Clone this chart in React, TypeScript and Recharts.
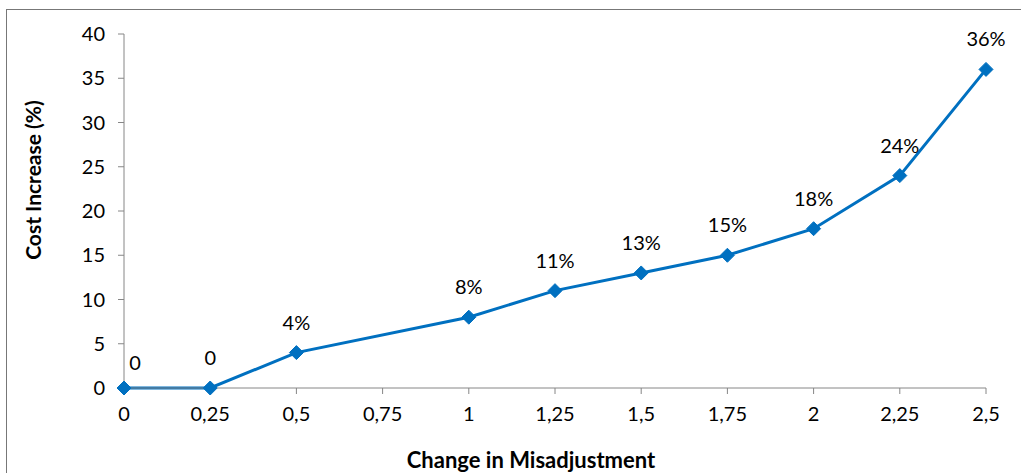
import { LineChart, Line, XAxis, YAxis, LabelList } from 'recharts';

const misadjustment = ['0', '0,25', '0,5', '0,75', '1', '1,25', '1,5', '1,75', '2', '2,25', '2,5'];
const costIncrease: (number | null)[] = [0, 0, 4, null, 8, 11, 13, 15, 18, 24, 36];
const yTicks = [0, 5, 10, 15, 20, 25, 30, 35, 40];

const data = misadjustment.map((x, i) => ({ x, cost: costIncrease[i] }));

const FONT = 'Lato, "Open Sans", sans-serif';
const BLUE = '#0070C0';
const AXIS = '#868686';

const Diamond = (props: any) => {
  const { cx, cy, value } = props;
  if (value == null || cx == null || cy == null) return null;
  const r = 7;
  return (
    <polygon
      points={`${cx},${cy - r} ${cx + r},${cy} ${cx},${cy + r} ${cx - r},${cy}`}
      fill={BLUE}
      stroke={BLUE}
    />
  );
};

const PointLabel = (props: any) => {
  const { x, y, value, index } = props;
  if (value == null) return null;
  const first = index === 0;
  return (
    <text
      x={x + (first ? 11 : 0)}
      y={y - (first ? 26 : 31)}
      textAnchor="middle"
      dominantBaseline="central"
      fontFamily={FONT}
      fontSize={20}
      fill="#000"
    >
      {value === 0 ? '0' : `${value}%`}
    </text>
  );
};

const App = () => {
  return (
    <div style={{ position: 'absolute', left: 0, top: 0, width: 1021, height: 473, overflow: 'hidden', background: '#fff' }}>
      <div
        style={{
          position: 'absolute',
          left: 6,
          top: 9,
          width: 1040,
          height: 500,
          border: '1px solid #777',
        }}
      />
      <LineChart
        width={1021}
        height={473}
        data={data}
        margin={{ top: 34, right: 35, bottom: 25, left: 64 }}
        style={{ position: 'absolute', left: 0, top: 0 }}
      >
        <XAxis
          dataKey="x"
          height={60}
          padding={{ left: 0, right: 0 }}
          stroke={AXIS}
          tickSize={6}
          tickMargin={13}
          interval={0}
          tick={{ fill: '#000', fontSize: 20, fontFamily: FONT }}
          label={() => (
            <text x={531} y={459} textAnchor="middle" dominantBaseline="central" fontFamily={FONT} fontWeight="bold" fontSize={22} fill="#000">
              Change in Misadjustment
            </text>
          )}
        />
        <YAxis
          width={60}
          domain={[0, 40]}
          ticks={yTicks}
          interval={0}
          stroke={AXIS}
          tickSize={6}
          tickMargin={13}
          tick={{ fill: '#000', fontSize: 20, fontFamily: FONT }}
          label={() => (
            <text
              x={32}
              y={180}
              textAnchor="middle"
              dominantBaseline="central"
              transform="rotate(-90 32 180)"
              fontFamily={FONT}
              fontWeight="bold"
              fontSize={21}
              fill="#000"
            >
              Cost Increase (%)
            </text>
          )}
        />
        <Line
          type="linear"
          dataKey="cost"
          stroke={BLUE}
          strokeWidth={3}
          connectNulls
          dot={<Diamond />}
          activeDot={false}
          isAnimationActive={false}
        >
          <LabelList dataKey="cost" content={<PointLabel />} />
        </Line>
      </LineChart>
    </div>
  );
};

export default App;
